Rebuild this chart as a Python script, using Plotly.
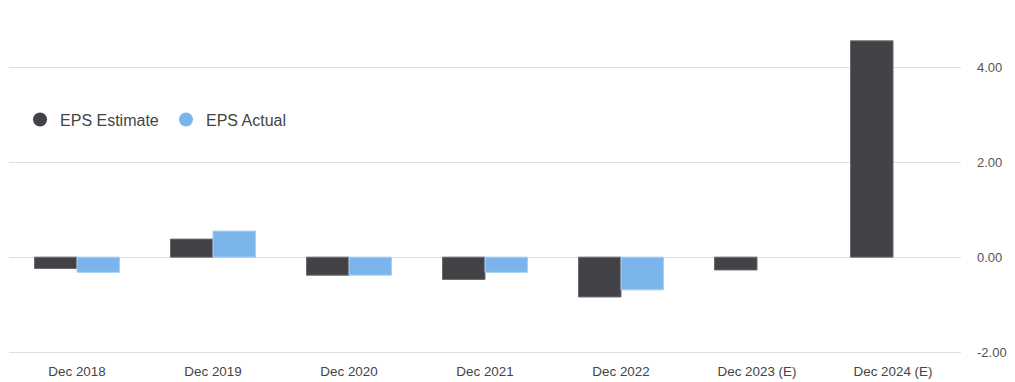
import plotly.graph_objects as go

categories = ["Dec 2018", "Dec 2019", "Dec 2020", "Dec 2021", "Dec 2022", "Dec 2023 (E)", "Dec 2024 (E)"]
eps_estimate = [-0.24, 0.38, -0.38, -0.47, -0.84, -0.27, 4.56]
eps_actual = [-0.32, 0.55, -0.38, -0.32, -0.69, None, None]
y_ticks = [-2, 0, 2, 4]

est_color = "#434247"
act_color = "#7cb5ec"
font_family = "Arial, Liberation Sans, sans-serif"

fig = go.Figure()
fig.add_trace(go.Bar(x=categories, y=eps_estimate, name="EPS Estimate",
                     marker=dict(color=est_color, line=dict(color="#6a6a6e", width=1)),
                     showlegend=False))
fig.add_trace(go.Bar(x=categories, y=eps_actual, name="EPS Actual",
                     marker=dict(color=act_color, line=dict(color="#a8cff4", width=1)),
                     showlegend=False))
# legend entries with circle symbols
fig.add_trace(go.Scatter(x=[None], y=[None], mode="markers", name="EPS Estimate",
                         marker=dict(color=est_color, size=14, symbol="circle"),
                         legend="legend"))
fig.add_trace(go.Scatter(x=[None], y=[None], mode="markers", name="EPS Actual",
                         marker=dict(color=act_color, size=14, symbol="circle"),
                         legend="legend2"))

legend_style = dict(orientation="h", y=0.70, xanchor="left", yanchor="middle",
                    font=dict(size=16, color="#444"), bgcolor="rgba(0,0,0,0)",
                    itemwidth=30)

fig.update_layout(
    width=1007, height=374,
    margin=dict(l=1, r=54, t=12, b=30),
    paper_bgcolor="white", plot_bgcolor="white",
    barmode="group", bargap=0.375, bargroupgap=0,
    font=dict(family=font_family, color="#444"),
    legend=dict(x=0.0116, **legend_style),
    legend2=dict(x=0.1649, **legend_style),
    xaxis=dict(type="category", showgrid=False, showline=True, linecolor="#e0e0e0",
               linewidth=1, zeroline=False, mirror=False,
               tickfont=dict(size=13.4, color="#444"), ticks="", ticklen=0,
               ticklabelstandoff=7),
    yaxis=dict(side="right", range=[-2, 5], tickvals=y_ticks,
               ticktext=[f"{v:.2f}" for v in y_ticks],
               showgrid=True, gridcolor="#e0e0e0", gridwidth=1,
               zeroline=True, zerolinecolor="#e0e0e0", zerolinewidth=1,
               showline=False, ticks="", tickfont=dict(size=13, color="#555"),
               ticklabelstandoff=15),
)

fig.write_html("out.html")
